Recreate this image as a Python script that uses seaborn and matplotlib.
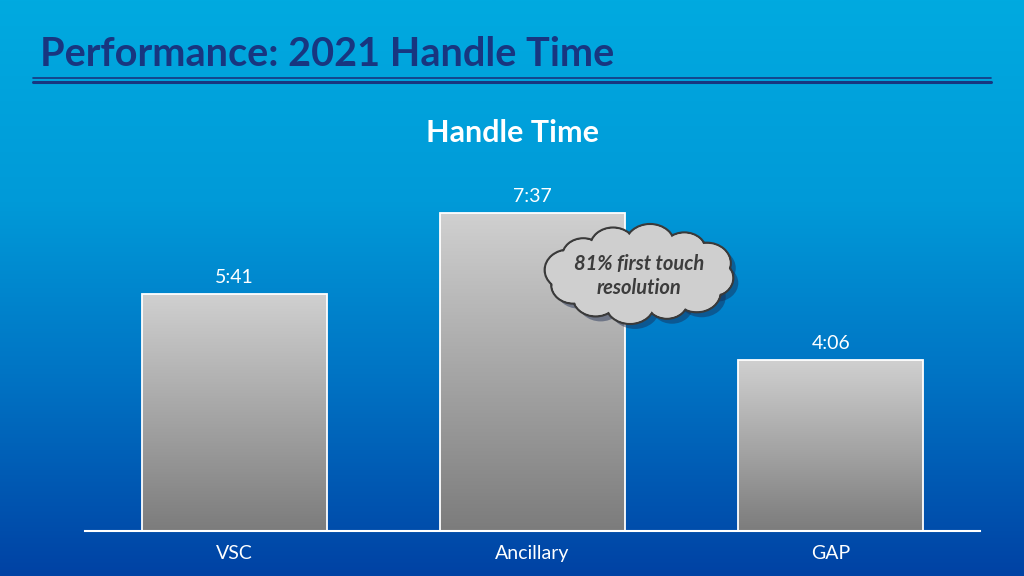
import numpy as np
import pandas as pd
import matplotlib
matplotlib.use("Agg")
import matplotlib.pyplot as plt
import seaborn as sns
from matplotlib.patches import Ellipse
from matplotlib.colors import LinearSegmentedColormap

# chart data
teams = ["VSC", "Ancillary", "GAP"]
handle_secs = [341, 457, 246]
handle_labels = ["5:41", "7:37", "4:06"]
note_text = "81% first touch\nresolution"

df = pd.DataFrame({"team": teams, "secs": handle_secs})

sns.set_style("white")
plt.rcParams["font.family"] = ["Lato", "DejaVu Sans"]

fig = plt.figure(figsize=(10.24, 5.76), dpi=100)

# background gradient over whole slide
bg = fig.add_axes([0, 0, 1, 1], zorder=-10)
bg_cmap = LinearSegmentedColormap.from_list(
    "bg", [(0, "#00aae0"), (0.35, "#009ad8"), (0.65, "#0074c4"), (1, "#0042a4")])
bg.imshow(np.linspace(0, 1, 256).reshape(-1, 1), aspect="auto", cmap=bg_cmap,
          extent=[0, 1, 0, 1], origin="upper")
bg.set_axis_off()

# main chart axes
ax = fig.add_axes([85 / 1024, (576 - 531) / 576, (980 - 85) / 1024, (531 - 160) / 576])
sns.barplot(data=df, x="team", y="secs", ax=ax, width=0.62, color="#bbbbbb")
ax.set_facecolor("none")

bar_cmap = LinearSegmentedColormap.from_list("bar", ["#d0d0d0", "#7c7c7c"])
grad = np.linspace(0, 1, 256).reshape(-1, 1)
for p in ax.patches:
    x0, y0 = p.get_x(), p.get_y()
    w, h = p.get_width(), p.get_height()
    img = ax.imshow(grad, cmap=bar_cmap, aspect="auto", origin="upper",
                    extent=[x0, x0 + w, y0, y0 + h], zorder=2)
    img.set_clip_path(p)
    p.set_facecolor("none")
    p.set_edgecolor("white")
    p.set_linewidth(1.3)
    p.set_zorder(3)
ax.set_xlim(-0.5, 2.5)
ax.set_ylim(0, 534)

for i, (v, lab) in enumerate(zip(handle_secs, handle_labels)):
    ax.annotate(lab, (i, v), xytext=(0, 6), textcoords="offset points",
                ha="center", va="bottom", color="white", fontsize=14)

sns.despine(ax=ax, left=True, top=True, right=True)
ax.spines["bottom"].set_color("white")
ax.spines["bottom"].set_linewidth(1.5)
ax.set_yticks([])
ax.set_xlabel("")
ax.set_ylabel("")
ax.tick_params(axis="x", length=0, pad=10, colors="white", labelsize=14)

# overlay in pixel coordinates for title and callout
ov = fig.add_axes([0, 0, 1, 1], zorder=5)
ov.set_xlim(0, 1024)
ov.set_ylim(576, 0)
ov.set_axis_off()
ov.patch.set_alpha(0)

ov.text(40, 54, "Performance: 2021 Handle Time", ha="left", va="center",
        fontsize=28.5, fontweight="bold", color="#183680")
ov.plot([33, 991], [78, 78], color="#183680", lw=1.2)
ov.plot([33, 991], [82, 82], color="#183680", lw=2.2)
ov.text(512, 133, "Handle Time", ha="center", va="center", fontsize=22,
        fontweight="bold", color="white")

# cloud callout: bumps placed round an ellipse
cx0, cy0, ax_a, ax_b = 640, 274, 72, 29
angles = np.deg2rad(np.arange(0, 360, 30) + 8)
radii = [22, 24, 21, 25, 23, 22, 24, 21, 23, 25, 22, 24]
bumps = [(cx0 + ax_a * np.cos(t), cy0 + ax_b * np.sin(t), r) for t, r in zip(angles, radii)]
for cx, cy, r in bumps:
    ov.add_patch(Ellipse((cx + 5, cy + 5), 2 * r, 1.7 * r, facecolor="#1a2a50",
                         edgecolor="none", alpha=0.45, zorder=6))
for cx, cy, r in bumps:
    ov.add_patch(Ellipse((cx, cy), 2 * r, 1.7 * r, facecolor="#cfcfcf",
                         edgecolor="#3a3a3a", lw=1.6, zorder=7))
for cx, cy, r in bumps:
    ov.add_patch(Ellipse((cx, cy), 2 * r - 2.5, 1.7 * r - 2.5, facecolor="#cfcfcf",
                         edgecolor="none", zorder=8))
ov.add_patch(Ellipse((cx0, cy0), 2 * ax_a, 2 * ax_b + 6, facecolor="#cfcfcf",
                     edgecolor="none", zorder=8))
ov.text(639, 276, note_text, ha="center", va="center", fontsize=14.5,
        fontstyle="italic", fontweight="bold", color="#3c3c3c", zorder=9,
        linespacing=1.25)

fig.savefig("out.png", dpi=100)
